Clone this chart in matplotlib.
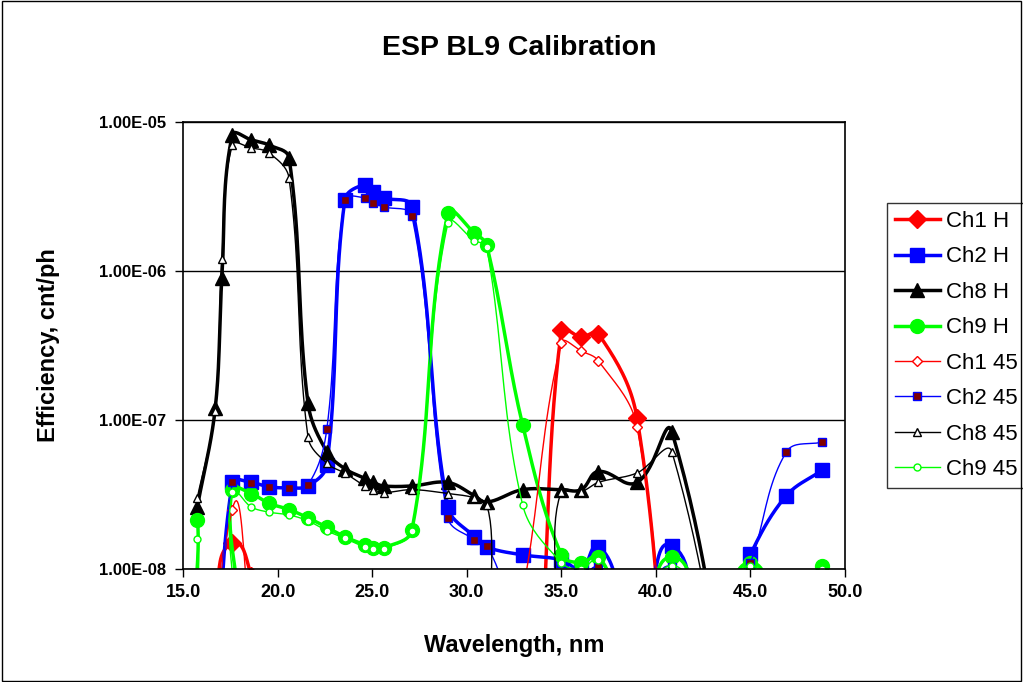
import numpy as np
import matplotlib
matplotlib.use("Agg")
import matplotlib.pyplot as plt
from matplotlib.patches import Rectangle

plt.rcParams['font.family'] = ['Liberation Sans', 'DejaVu Sans']

# wavelength grids (nm)
wl_main = [16.7, 17.6, 18.6, 19.55, 20.6, 21.6, 22.6, 23.55, 24.6, 25.05, 25.6, 27.1,
           29.0, 30.4, 31.05, 32.95, 35.0, 36.05, 36.95, 39.0, 40.85, 43.0, 45.0, 46.9, 48.8]
wl_ch1 = wl_main[:21]
wl_ch8 = [15.75, 16.7, 17.05, 17.6, 18.6, 19.55, 20.6, 21.6, 22.6, 23.55, 24.6, 25.05, 25.6,
          27.1, 29.0, 30.4, 31.05, 32.95, 35.0, 36.05, 36.95, 39.0, 40.85, 45.0]
wl_ch9 = [15.75] + wl_main

# efficiency, cnt/ph (values under 1e-8 fall below the plotted range)
ch1_h = [7e-9, 1.48e-8, 9e-9, 3e-9, 1e-9, 1e-9, 1e-9, 1e-9, 1e-9, 1e-9, 1e-9, 1e-9, 1e-9, 1e-9, 1e-9,
         3e-10, 4.0e-7, 3.6e-7, 3.8e-7, 1.03e-7, 4e-10]
ch1_45 = [4e-10, 2.5e-8, 4e-9, 1e-9, 1e-9, 1e-9, 1e-9, 1e-9, 1e-9, 1e-9, 1e-9, 1e-9, 1e-9, 1e-9, 1e-9,
          7e-9, 3.3e-7, 2.9e-7, 2.5e-7, 9e-8, 6e-10]
ch2_h = [1e-9, 3.8e-8, 3.8e-8, 3.55e-8, 3.5e-8, 3.6e-8, 5.0e-8, 3.0e-6, 3.8e-6, 3.4e-6, 3.1e-6, 2.7e-6,
         2.6e-8, 1.64e-8, 1.4e-8, 1.24e-8, 1.15e-8, 1.0e-8, 1.4e-8, 6e-9, 1.43e-8, 3e-9, 1.25e-8, 3.1e-8, 4.6e-8]
ch2_45 = [1e-9, 3.8e-8, 3.75e-8, 3.55e-8, 3.5e-8, 3.65e-8, 8.7e-8, 3.0e-6, 3.1e-6, 2.86e-6, 2.7e-6, 2.34e-6,
          2.2e-8, 1.57e-8, 1.42e-8, 5e-9, 5e-9, 6e-9, 1.03e-8, 5e-9, 1.03e-8, 3e-9, 1.1e-8, 6.1e-8, 7.1e-8]
ch8_h = [2.6e-8, 1.2e-7, 9.0e-7, 8.2e-6, 7.6e-6, 7.0e-6, 5.75e-6, 1.3e-7, 6.1e-8, 4.7e-8, 4.05e-8, 3.8e-8, 3.6e-8,
         3.6e-8, 3.8e-8, 3.1e-8, 2.8e-8, 3.4e-8, 3.4e-8, 3.4e-8, 4.5e-8, 3.8e-8, 8.3e-8, 1e-10]
ch8_45 = [3.0e-8, 1.15e-7, 1.2e-6, 7.0e-6, 6.7e-6, 6.2e-6, 4.2e-6, 7.7e-8, 5.1e-8, 4.4e-8, 3.6e-8, 3.4e-8, 3.25e-8,
          3.4e-8, 3.2e-8, 3.0e-8, 2.7e-8, 3e-9, 3.3e-8, 3.3e-8, 3.8e-8, 4.4e-8, 6.1e-8, 1e-10]
ch9_h = [2.13e-8, 2e-9, 3.4e-8, 3.2e-8, 2.75e-8, 2.5e-8, 2.2e-8, 1.9e-8, 1.64e-8, 1.45e-8, 1.38e-8, 1.38e-8, 1.82e-8,
         2.45e-6, 1.8e-6, 1.49e-6, 9.3e-8, 1.24e-8, 1.1e-8, 1.2e-8, 5e-9, 1.2e-8, 5e-9, 1.1e-8, 5e-9, 1.05e-8]
ch9_45 = [1.58e-8, 1.5e-9, 3.3e-8, 2.6e-8, 2.4e-8, 2.3e-8, 2.1e-8, 1.8e-8, 1.6e-8, 1.4e-8, 1.36e-8, 1.36e-8, 1.8e-8,
          2.1e-6, 1.6e-6, 1.45e-6, 2.7e-8, 1.1e-8, 1.0e-8, 1.15e-8, 5e-9, 1.05e-8, 5e-9, 1.05e-8, 5e-9, 1.0e-8]

N = 20  # samples per segment for the smoothed line
SX, SY = 18.93, 149.0  # approx. pixels per nm / per decade, used for the smoothing shape


# Excel-like smoothed line: bezier segments, handles along neighbour chord
def smooth(x, y, n=N, s=0.36):
    P = np.column_stack([np.asarray(x, float) * SX, np.log10(np.asarray(y, float)) * SY])
    k = len(P)
    T = np.zeros_like(P)
    for i in range(k):
        d = P[min(i + 1, k - 1)] - P[max(i - 1, 0)]
        T[i] = d / np.linalg.norm(d)
    t = np.linspace(0, 1, n, endpoint=False)[:, None]
    out = []
    for i in range(k - 1):
        L = np.linalg.norm(P[i + 1] - P[i])
        c1 = P[i] + T[i] * L * s
        c2 = P[i + 1] - T[i + 1] * L * s
        out.append((1 - t)**3 * P[i] + 3 * (1 - t)**2 * t * c1 + 3 * (1 - t) * t**2 * c2 + t**3 * P[i + 1])
    out.append(P[-1:])
    out = np.vstack(out)
    return out[:, 0] / SX, 10 ** (out[:, 1] / SY)


fig = plt.figure(figsize=(10.23, 6.82), dpi=100)
ax = fig.add_axes([0.179, 0.166, 0.647, 0.655])

series = [
    (wl_ch1, ch1_h, 'Ch1 H', dict(color='#ff0000', lw=2.5, marker='D', ms=9, mfc='#ff0000', mec='#ff0000')),
    (wl_main, ch2_h, 'Ch2 H', dict(color='#0000ff', lw=2.5, marker='s', ms=10, mfc='#0000ff', mec='#0000ff')),
    (wl_ch8, ch8_h, 'Ch8 H', dict(color='black', lw=2.5, marker='^', ms=10, mfc='black', mec='black')),
    (wl_ch9, ch9_h, 'Ch9 H', dict(color='#00ff00', lw=2.5, marker='o', ms=10, mfc='#00ff00', mec='#00ff00')),
    (wl_ch1, ch1_45, 'Ch1 45', dict(color='#ff0000', lw=1, marker='D', ms=5, mfc='white', mec='#ff0000')),
    (wl_main, ch2_45, 'Ch2 45', dict(color='#0000ff', lw=1, marker='s', ms=5.5, mfc='#800000', mec='#0000ff')),
    (wl_ch8, ch8_45, 'Ch8 45', dict(color='black', lw=1, marker='^', ms=6, mfc='white', mec='black')),
    (wl_ch9, ch9_45, 'Ch9 45', dict(color='#00ff00', lw=1, marker='o', ms=5, mfc='white', mec='#00ff00')),
]

for wl, vals, name, st in series:
    xs, ys = smooth(wl, vals)
    ax.plot(xs, ys, label=name, markevery=N, **st)

ax.set_yscale('log')
ax.set_xlim(15, 50)
ax.set_ylim(1e-8, 1e-5)
ax.set_xticks(np.arange(15, 50.1, 5))
ax.set_xticklabels([f'{v:.1f}' for v in np.arange(15, 50.1, 5)])
ax.set_yticks([1e-8, 1e-7, 1e-6, 1e-5])
ax.set_yticklabels(['1.00E-08', '1.00E-07', '1.00E-06', '1.00E-05'])
ax.yaxis.set_minor_locator(matplotlib.ticker.NullLocator())
ax.tick_params(direction='out', length=6, width=1)
ax.tick_params(axis='y', labelsize=12, pad=6)
ax.tick_params(axis='x', labelsize=13, pad=5)
for lab in ax.get_xticklabels() + ax.get_yticklabels():
    lab.set_fontweight('bold')
ax.grid(axis='y', which='major', color='black', lw=1)
for s in ax.spines.values():
    s.set_linewidth(1.2)

ax.set_xlabel('Wavelength, nm', fontsize=17, fontweight='bold', labelpad=24)
ax.set_ylabel('Efficiency, cnt/ph', fontsize=17, fontweight='bold', labelpad=28)
fig.text(0.508, 0.93, 'ESP BL9 Calibration', ha='center', va='center', fontsize=20.5, fontweight='bold')

leg = ax.legend(loc='upper left', bbox_to_anchor=(0.867, 0.702), bbox_transform=fig.transFigure,
                fontsize=16, frameon=True, fancybox=False, edgecolor='black', numpoints=1,
                handlelength=2.05, labelspacing=0.65, borderpad=0.35, handletextpad=0.27,
                borderaxespad=0)
leg.get_frame().set_linewidth(1)

fig.patches.append(Rectangle((0.002, 0.002), 0.996, 0.996, transform=fig.transFigure,
                             fill=False, edgecolor='black', lw=1))

fig.savefig('out.png', dpi=100)
